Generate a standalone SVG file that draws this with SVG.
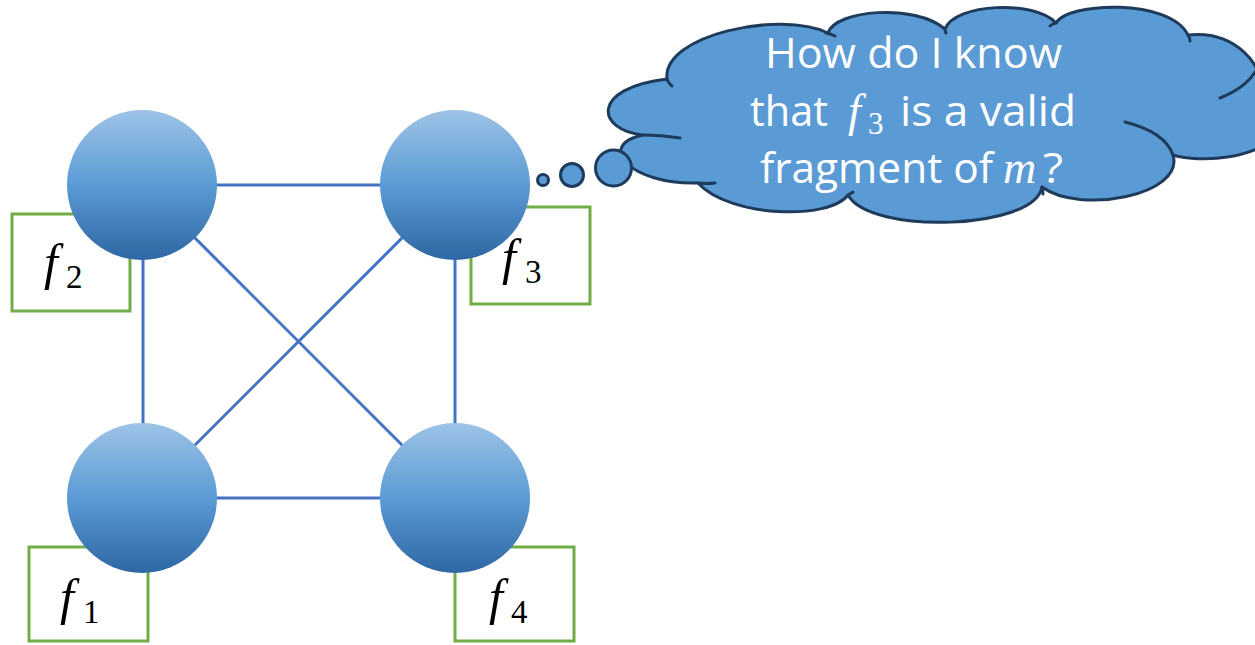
<svg xmlns="http://www.w3.org/2000/svg" width="1255" height="645" viewBox="0 0 1255 645">
  <defs>
    <linearGradient id="ballFill" x1="0" y1="0" x2="0" y2="1">
      <stop offset="0" stop-color="#9DC3E6"/>
      <stop offset="0.5" stop-color="#5B9BD5"/>
      <stop offset="1" stop-color="#2E67A3"/>
    </linearGradient>
    <style>
      .edge { stroke: #4472C4; stroke-width: 3; fill: none; }
      .frag { fill: #FFFFFF; stroke: #70AD47; stroke-width: 3; }
      .ball { fill: url(#ballFill); }
      .math { font-family: "Liberation Serif", "DejaVu Serif", serif; font-style: italic; font-size: 50px; fill: #000000; }
      .sub { font-family: "Liberation Serif", "DejaVu Serif", serif; font-style: normal; font-size: 33px; }
      .cloud { fill: #5B9BD5; stroke: #1F3B5C; stroke-width: 3; stroke-linejoin: round; }
      .seam { fill: none; stroke: #1F3B5C; stroke-width: 3; stroke-linecap: round; }
      .say { font-family: "Open Sans", "Noto Sans", "DejaVu Sans", sans-serif; font-size: 42px; fill: #FFFFFF; }
      .sayMath { font-family: "Liberation Serif", "DejaVu Serif", serif; font-style: italic; font-size: 46px; fill: #FFFFFF; }
      .saySub { font-family: "Liberation Serif", "DejaVu Serif", serif; font-style: normal; font-size: 31px; }
    </style>
  </defs>

  <!-- fragment boxes sit behind the nodes -->
  <g id="box-f2"><rect class="frag" x="12" y="214" width="118" height="97"/></g>
  <g id="box-f3"><rect class="frag" x="471" y="207" width="119" height="97"/></g>
  <g id="box-f1"><rect class="frag" x="29" y="547" width="119" height="94"/></g>
  <g id="box-f4"><rect class="frag" x="455" y="547" width="119" height="94"/></g>

  <!-- complete graph on four nodes -->
  <g id="connectors">
    <line class="edge" x1="142" y1="185" x2="455" y2="185"/>
    <line class="edge" x1="142" y1="498" x2="455" y2="498"/>
    <line class="edge" x1="143" y1="185" x2="143" y2="498"/>
    <line class="edge" x1="455" y1="185" x2="455" y2="498"/>
    <line class="edge" x1="142" y1="185" x2="455" y2="498"/>
    <line class="edge" x1="455" y1="185" x2="142" y2="498"/>
  </g>

  <g id="node-2">
    <circle class="ball" cx="142" cy="185" r="75"/>
    <text class="math" x="44" y="279">f<tspan class="sub" x="66" y="288">2</tspan></text>
  </g>
  <g id="node-3">
    <circle class="ball" cx="455" cy="185" r="75"/>
    <text class="math" x="502" y="274">f<tspan class="sub" x="525" y="283">3</tspan></text>
  </g>
  <g id="node-1">
    <circle class="ball" cx="142" cy="498" r="75"/>
    <text class="math" x="60" y="614">f<tspan class="sub" x="83" y="623">1</tspan></text>
  </g>
  <g id="node-4">
    <circle class="ball" cx="455" cy="498" r="75"/>
    <text class="math" x="489" y="614">f<tspan class="sub" x="511" y="623">4</tspan></text>
  </g>

  <!-- thought cloud of node 3 -->
  <g id="thought">
    <path class="cloud" d="M 643,135
      C 596,130 590,88 667,79
      C 662,35 780,10 828,33
      C 835,10 915,3 945,29
      C 955,3 1035,0 1056,23
      C 1068,2 1170,-2 1188,35
      C 1235,30 1265,65 1262,95
      L 1280,100 L 1280,130
      C 1260,160 1200,163 1173,155
      C 1185,195 1080,215 1042,187
      C 1035,230 870,235 848,195
      C 830,220 730,218 698,183
      C 630,185 595,145 643,135 Z"/>
    <!-- inner seams where the puffs overlap -->
    <path class="seam" d="M 667,79 Q 668,83 672,86"/>
    <path class="seam" d="M 643,135 Q 660,135 680,138"/>
    <path class="seam" d="M 698,183 Q 706,184 715,183"/>
    <path class="seam" d="M 826,33 Q 831,34 835,36"/>
    <path class="seam" d="M 945,29 Q 945,31 946,33"/>
    <path class="seam" d="M 1056,23 Q 1052,24 1050,26"/>
    <path class="seam" d="M 1188,35 Q 1190,38 1190,41"/>
    <path class="seam" d="M 1255,72 Q 1245,88 1220,98"/>
    <path class="seam" d="M 1125,122 Q 1165,132 1173,155"/>
    <path class="seam" d="M 1042,187 Q 1043,191 1043,194"/>
    <path class="seam" d="M 848,195 Q 850,194 853,192"/>
    <circle class="cloud" cx="543" cy="180" r="5.5"/>
    <circle class="cloud" cx="572" cy="175" r="11.5"/>
    <circle class="cloud" cx="613.5" cy="168" r="18"/>
    <text class="say" x="765" y="68" textLength="297" lengthAdjust="spacingAndGlyphs">How do I know</text>
    <text class="say" x="750" y="126" textLength="78" lengthAdjust="spacingAndGlyphs">that</text>
    <text class="sayMath" x="848" y="126">f<tspan class="saySub" x="868" y="134">3</tspan></text>
    <text class="say" x="900" y="126" textLength="176" lengthAdjust="spacingAndGlyphs">is a valid</text>
    <text class="say" x="760" y="183" textLength="233" lengthAdjust="spacingAndGlyphs">fragment of</text>
    <text class="sayMath" x="1003" y="183">m</text>
    <text class="say" x="1043" y="183" textLength="20" lengthAdjust="spacingAndGlyphs">?</text>
  </g>
</svg>
